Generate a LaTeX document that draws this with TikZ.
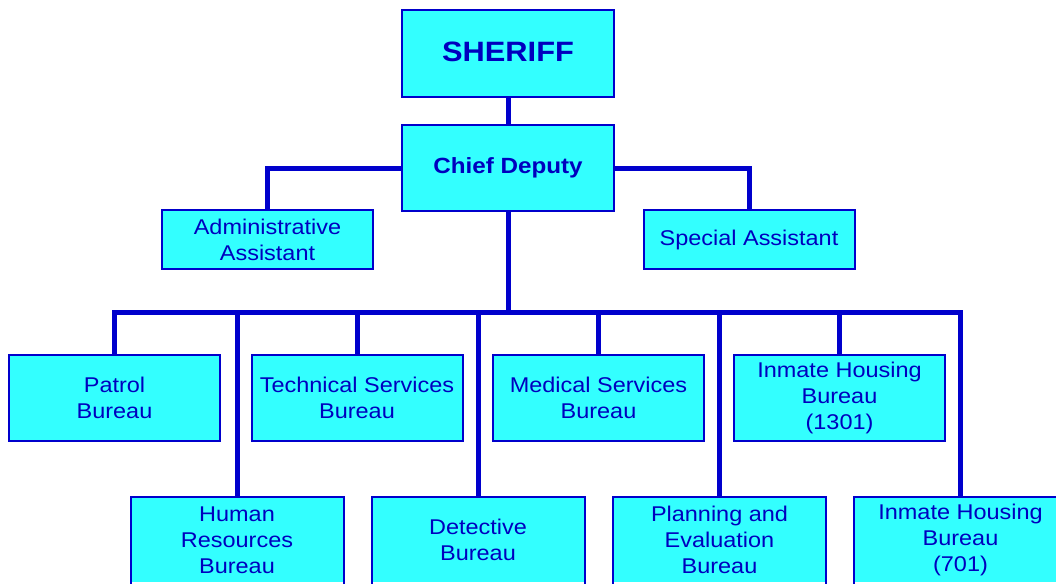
\documentclass[tikz,border=0pt]{standalone}
\usepackage{fontspec}
\setmainfont[FakeStretch=1.1]{Liberation Sans}
\usetikzlibrary{backgrounds}
\definecolor{boxfill}{RGB}{51,255,255}
\definecolor{linec}{RGB}{0,0,204}
\definecolor{txt}{RGB}{0,0,190}
\begin{document}
\begin{tikzpicture}[x=0.75pt,y=-0.75pt,
 box/.style={rectangle, fill=boxfill, draw=linec, line width=1.5pt, text=txt, align=center, inner sep=0pt,
   minimum width=211*0.75pt, minimum height=86*0.75pt, font=\fontsize{16}{19.5}\selectfont},
 openbox/.style={box, draw=none, minimum height=84*0.75pt},
 side/.style={draw=linec, line width=1.5pt},
 conn/.style={draw=linec, line width=3.75pt, line cap=rect}]
\useasboundingbox (0,0) rectangle (1056,583);
\clip (0,0) rectangle (1056,583);
% top
\node[box, minimum width=212*0.75pt, minimum height=87*0.75pt, font=\bfseries\fontsize{21}{25}\selectfont] (sheriff) at (508,53.5) {\raisebox{2pt}{SHERIFF}};
\node[box, minimum width=212*0.75pt, font=\bfseries\fontsize{16.5}{20}\selectfont] (chief) at (508,168) {Chief Deputy};
\node[box, minimum height=59*0.75pt] (admin) at (267.5,239.5) {Administrative\\Assistant};
\node[box, minimum height=59*0.75pt] (special) at (749,239.5) {Special Assistant};
% row 1
\node[box] (patrol) at (114.5,398) {Patrol\\Bureau};
\node[box] (tech) at (357,398) {Technical Services\\Bureau};
\node[box] (med) at (598.5,398) {Medical Services\\Bureau};
\node[box] (inma) at (839.5,398) {Inmate Housing\\Bureau\\(1301)};
% row 2 (boxes run off the bottom edge)
\node[openbox] (hr) at (237,540) {Human\\Resources\\Bureau};
\node[openbox] (det) at (478,540) {Detective\\Bureau};
\node[openbox] (plan) at (719.5,540) {Planning and\\Evaluation\\Bureau};
\node[openbox] (inmb) at (960.5,540) {Inmate Housing\\Bureau\\(701)};
\foreach \n in {hr,det,plan,inmb}{
  \draw[side] ([yshift=-20pt]\n.south west) -- (\n.north west) -- (\n.north east) -- ([yshift=-20pt]\n.south east);
}
\coordinate (bus) at (508,312);
\begin{scope}[on background layer]
\draw[conn] (sheriff.south) -- (chief.north);
\draw[conn] (chief.west) -| (admin.north);
\draw[conn] (chief.east) -| (special.north);
\draw[conn] (chief.south) -- (bus);
\foreach \n in {patrol,hr,tech,det,med,plan,inma,inmb}{
  \draw[conn] (\n.north) |- (bus);
}
\end{scope}
\end{tikzpicture}
\end{document}
